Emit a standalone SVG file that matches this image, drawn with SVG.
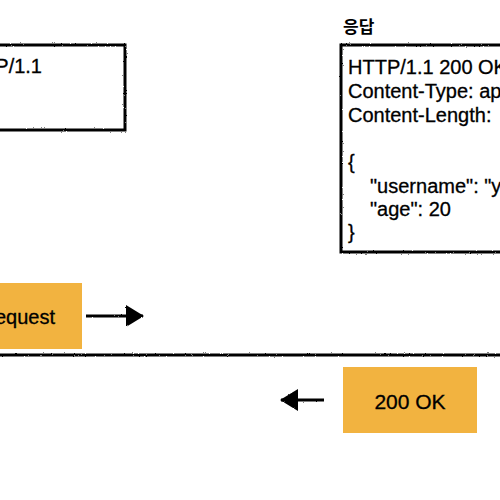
<svg xmlns="http://www.w3.org/2000/svg" width="500" height="500" viewBox="0 0 500 500">
<defs>
<filter id="rough" filterUnits="userSpaceOnUse" x="-20" y="-20" width="540" height="540">
<feTurbulence type="fractalNoise" baseFrequency="0.9" numOctaves="2" seed="3" result="n"/>
<feDisplacementMap in="SourceGraphic" in2="n" scale="2" xChannelSelector="R" yChannelSelector="G"/>
</filter>
<marker id="ah" viewBox="0 0 18 22" refX="17" refY="11" markerWidth="18" markerHeight="22" markerUnits="userSpaceOnUse" orient="auto">
<path d="M0,0 L18,11 L0,22 Z" fill="#000"/>
</marker>
</defs>
<style>
.sk{fill:none;stroke:#000;stroke-width:3;filter:url(#rough)}
.t{font-family:"Liberation Sans",Arial,sans-serif;font-size:20px;fill:#000;stroke:#000;stroke-width:0.3}
.k{font-family:"Noto Sans CJK KR",sans-serif;font-size:17px;font-weight:bold;fill:#000}
.box{fill:#F2B340}
.con{fill:none;stroke:#000;stroke-width:3;filter:url(#rough)}
</style>
<rect width="500" height="500" fill="#fff"/>
<g id="request-message">
<rect class="sk" x="-10" y="45" width="135" height="85"/>
<text class="t" x="42" y="73" text-anchor="end">P/1.1</text>
</g>
<g id="response-message">
<text class="k" x="343" y="33">응답</text>
<rect class="sk" x="341" y="45" width="180" height="207"/>
<text class="t" x="348" y="74">HTTP/1.1 200 OK</text>
<text class="t" x="348" y="98">Content-Type: ap</text>
<text class="t" x="348" y="122">Content-Length:</text>
<text class="t" x="348" y="169">{</text>
<text class="t" x="370" y="193">"username": "y</text>
<text class="t" x="370" y="216">"age": 20</text>
<text class="t" x="348" y="239">}</text>
</g>
<g id="divider">
<line class="sk" x1="-5" y1="355" x2="505" y2="355"/>
</g>
<g id="request-node">
<rect class="box" x="-50" y="283" width="132" height="66"/>
<text class="t" x="55" y="324" text-anchor="end">equest</text>
</g>
<g id="response-node">
<rect class="box" x="343" y="367" width="134" height="66"/>
<text class="t" x="410" y="409" text-anchor="middle" style="font-size:21px">200 OK</text>
</g>
<g id="connectors">
<line class="con" x1="86" y1="316" x2="143" y2="316" marker-end="url(#ah)"/>
<line class="con" x1="324" y1="400" x2="281" y2="400" marker-end="url(#ah)"/>
</g>
</svg>
